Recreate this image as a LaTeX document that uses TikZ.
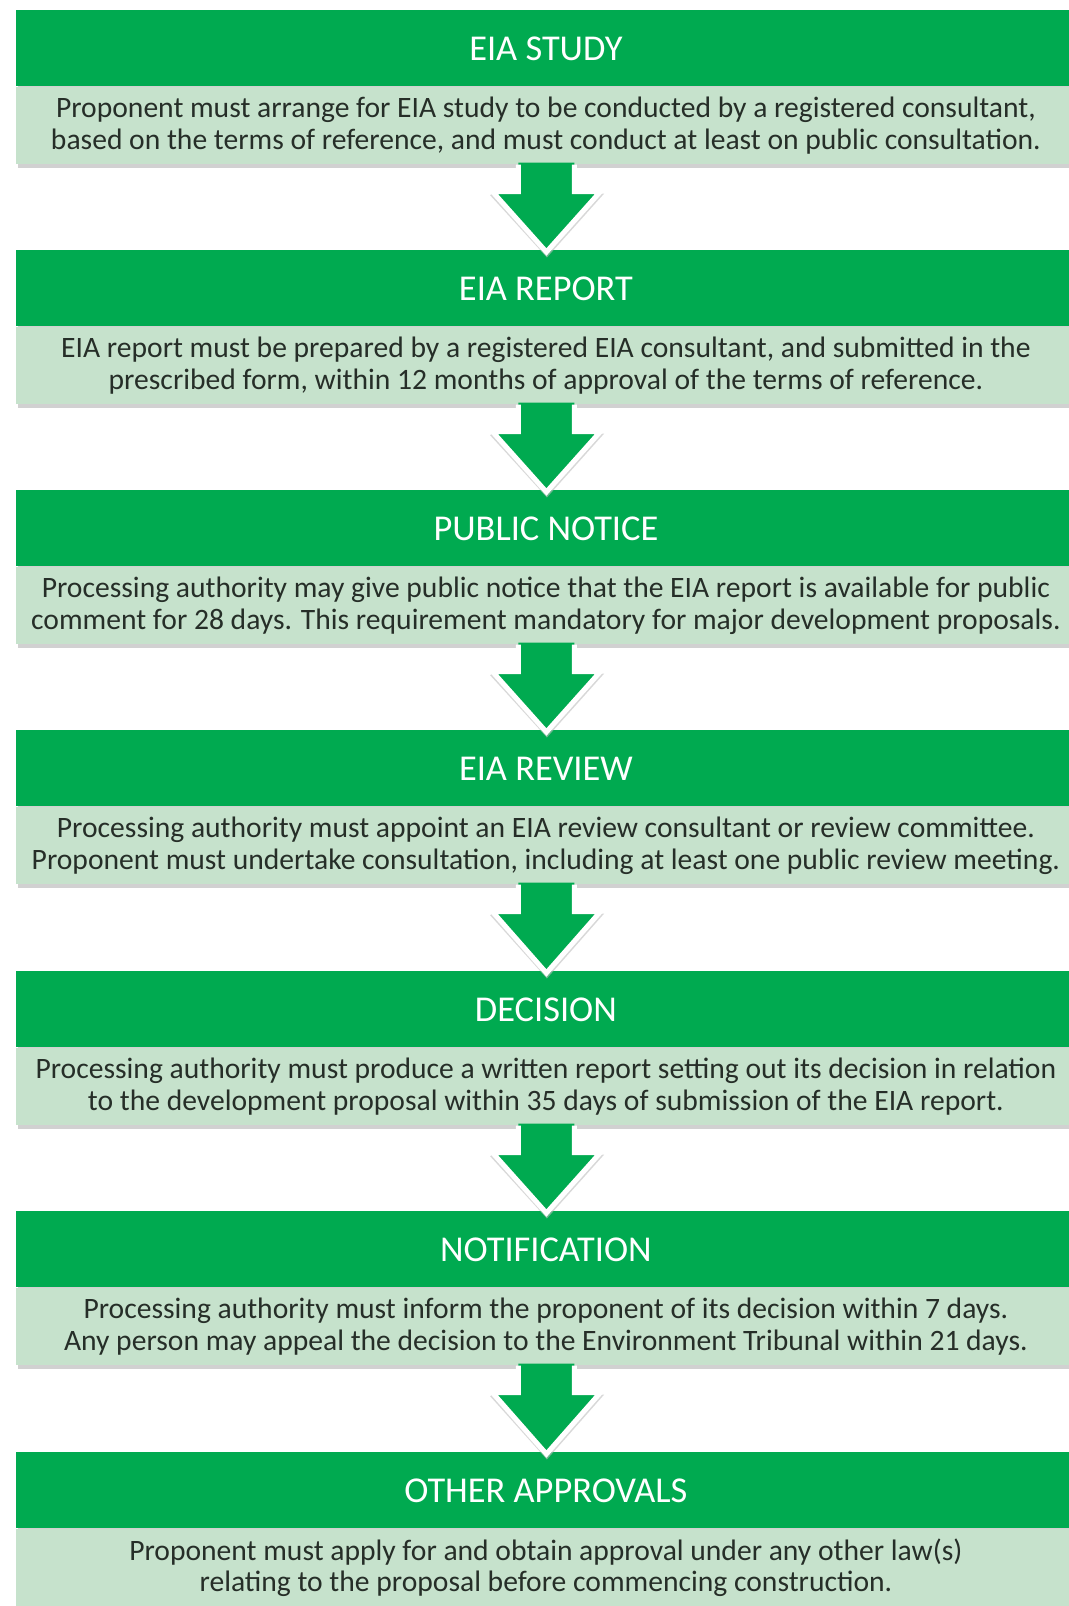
\documentclass[tikz,border=0pt]{standalone}
\usepackage{fontspec}
\setmainfont{Carlito}
\usetikzlibrary{calc}
\definecolor{hdrgreen}{RGB}{0,170,80}
\definecolor{bodygreen}{RGB}{198,226,204}
\definecolor{bodytext}{RGB}{38,46,40}
\begin{document}
\begin{tikzpicture}[x=0.5pt,y=-0.5pt,
  hdrbox/.style={fill=hdrgreen, text=white, minimum width=529.5pt, minimum height=38pt,
    inner sep=0pt, anchor=north west, font=\fontsize{18.2}{21}\selectfont},
  bodybox/.style={fill=bodygreen, text=bodytext, minimum width=529.5pt, minimum height=38.5pt,
    inner sep=0pt, anchor=north west, align=center, font=\fontsize{14.8}{15.85}\selectfont},
  boxshadow/.style={fill=black!40, opacity=0.45},
  arrowfill/.style={fill=hdrgreen},
  arrowedge/.style={draw=white, line width=2.5pt, line join=miter},
  arrowshadow/.style={draw=black!25, line width=1pt, opacity=0.6},
]
\useasboundingbox (0,0) rectangle (1069,1606);
\fill[white] (0,0) rectangle (1069,1606);

% shadows
\foreach \t in {10,250,490,730,971,1211,1452}{
  \fill[boxshadow] (18,\t+6) rectangle (1077,\t+158);
}

\node[hdrbox] (h1) at (16,10) {EIA STUDY};
\node[bodybox] (b1) at (h1.south west) {Proponent must arrange for EIA study to be conducted by a registered consultant,\\based on the terms of reference, and must conduct at least on public consultation.};

\node[hdrbox] (h2) at (16,250) {EIA REPORT};
\node[bodybox] (b2) at (h2.south west) {EIA report must be prepared by a registered EIA consultant, and submitted in the\\prescribed form, within 12 months of approval of the terms of reference.};

\node[hdrbox] (h3) at (16,490) {PUBLIC NOTICE};
\node[bodybox] (b3) at (h3.south west) {Processing authority may give public notice that the EIA report is available for public\\comment for 28 days. This requirement mandatory for major development proposals.};

\node[hdrbox] (h4) at (16,730) {EIA REVIEW};
\node[bodybox] (b4) at (h4.south west) {Processing authority must appoint an EIA review consultant or review committee.\\Proponent must undertake consultation, including at least one public review meeting.};

\node[hdrbox] (h5) at (16,971) {DECISION};
\node[bodybox] (b5) at (h5.south west) {Processing authority must produce a written report setting out its decision in relation\\to the development proposal within 35 days of submission of the EIA report.};

\node[hdrbox] (h6) at (16,1211) {NOTIFICATION};
\node[bodybox] (b6) at (h6.south west) {Processing authority must inform the proponent of its decision within 7 days.\\Any person may appeal the decision to the Environment Tribunal within 21 days.};

\node[hdrbox] (h7) at (16,1452) {OTHER APPROVALS};
\node[bodybox] (b7) at (h7.south west) {Proponent must apply for and obtain approval under any other law(s)\\relating to the proposal before commencing construction.};

% block arrows
\foreach \a/\b in {1/2,2/3,3/4,4/5,5/6,6/7}{
  \draw[arrowshadow]
    ($(b\a.south)+(29,2)$) -- ($(b\a.south)+(29,30)$) -- ($(b\a.south)+(56,30)$)
    -- ($(h\b.north)+(1,6)$) -- ($(b\a.south)+(-55,30)$);
  \fill[arrowfill]
    ($(b\a.south)+(-27.5,-2)$) -- ($(b\a.south)+(28.5,-2)$) -- ($(b\a.south)+(28.5,27)$)
    -- ($(b\a.south)+(54.5,27)$) -- ($(h\b.north)+(0.5,2)$) -- ($(b\a.south)+(-53.5,27)$)
    -- ($(b\a.south)+(-27.5,27)$) -- cycle;
  \draw[arrowedge]
    ($(b\a.south)+(-27.5,0)$) -- ($(b\a.south)+(-27.5,27)$) -- ($(b\a.south)+(-53.5,27)$)
    -- ($(h\b.north)+(0.5,2)$) -- ($(b\a.south)+(54.5,27)$) -- ($(b\a.south)+(28.5,27)$)
    -- ($(b\a.south)+(28.5,0)$);
}
\end{tikzpicture}
\end{document}
